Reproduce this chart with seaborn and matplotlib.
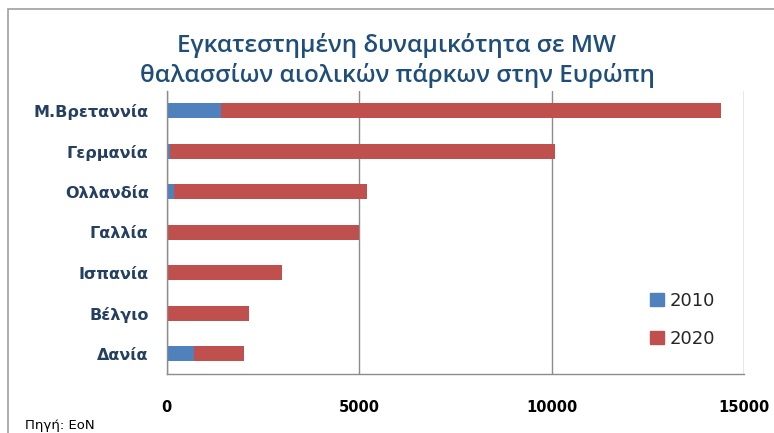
import pandas as pd
import matplotlib.pyplot as plt
import seaborn as sns
from matplotlib.patches import Patch, Rectangle

# --- Data (MW; bars are stacked 2010 + 2020) ---
countries = ["Μ.Βρεταννία", "Γερμανία", "Ολλανδία", "Γαλλία", "Ισπανία", "Βέλγιο", "Δανία"]
mw_2010 = [1400, 80, 200, 0, 0, 0, 700]
mw_2020 = [13000, 10000, 5000, 5000, 3000, 2150, 1300]
x_ticks = [0, 5000, 10000, 15000]

BLUE = "#4F81BD"
RED = "#C0504D"
GRID = "#8C8C8C"
TITLE_C = "#1F4E79"
LABEL_C = "#243F60"

df = pd.DataFrame({"country": countries, "y2010": mw_2010, "y2020": mw_2020})
df["total"] = df["y2010"] + df["y2020"]

sns.set_theme(style="white")
plt.rcParams["font.family"] = ["DejaVu Sans"]

fig = plt.figure(figsize=(7.74, 4.33), dpi=100)
ax = fig.add_axes([166.7 / 774, 1 - 374 / 433, (744.3 - 166.7) / 774, (374 - 90.5) / 433])

# red = 2020 stacked on top of 2010, blue drawn over the base
sns.barplot(data=df, x="total", y="country", color=RED, width=0.37,
            saturation=1, orient="h", linewidth=0, ax=ax)
sns.barplot(data=df, x="y2010", y="country", color=BLUE, width=0.37,
            saturation=1, orient="h", linewidth=0, ax=ax)

ax.set_xlim(0, 15000)
ax.set_ylim(6.5, -0.5)
ax.set_xticks(x_ticks)
ax.set_xticklabels([str(t) for t in x_ticks], fontsize=10.5, fontweight="bold", color="black")
ax.set_xlabel("")
ax.set_ylabel("")
ax.xaxis.grid(True, color=GRID, linewidth=1)
ax.set_axisbelow(True)
for s in ["top", "right"]:
    ax.spines[s].set_visible(False)
for s in ["left", "bottom"]:
    ax.spines[s].set_color(GRID)
    ax.spines[s].set_linewidth(1)

# category labels with boundary ticks like Excel
ax.set_yticks(range(len(countries)))
ax.set_yticklabels(countries, fontsize=11.5, fontweight="bold", color=LABEL_C)
ax.tick_params(axis="y", length=0, pad=13)
ax.set_yticks([i - 0.5 for i in range(len(countries) + 1)], minor=True)
ax.tick_params(axis="y", which="minor", length=5, color=GRID, direction="out")
ax.tick_params(axis="x", length=5, color=GRID, direction="out", pad=14)

# title
fig.text(396 / 774, 1 - 45 / 433, "Εγκατεστημένη δυναμικότητα σε MW",
         ha="center", va="center", fontsize=17.5, color=TITLE_C, family="Open Sans",
         fontweight="semibold")
fig.text(397 / 774, 1 - 76 / 433, "θαλασσίων αιολικών πάρκων στην Ευρώπη",
         ha="center", va="center", fontsize=17.5, color=TITLE_C, family="Open Sans",
         fontweight="semibold")

# legend
handles = [Patch(color=BLUE, label="2010"), Patch(color=RED, label="2020")]
fig.legend(handles=handles, loc="center left", bbox_to_anchor=(634 / 774, 1 - 320 / 433),
           frameon=False, fontsize=13, handlelength=0.75, handleheight=0.75,
           handletextpad=0.35, labelspacing=1.1, labelcolor="#262626")

# source note
fig.text(25 / 774, 1 - 425 / 433, "Πηγή: EoN", ha="left", va="center", fontsize=9.5, color="black")

# outer frame of the chart area
fig.patches.append(Rectangle((8 / 774, -0.05), 1.1, 1 - 9 / 433 + 0.05, transform=fig.transFigure,
                             fill=False, edgecolor="#A0A0A0", linewidth=1.2))

fig.savefig("out.png", dpi=100)
